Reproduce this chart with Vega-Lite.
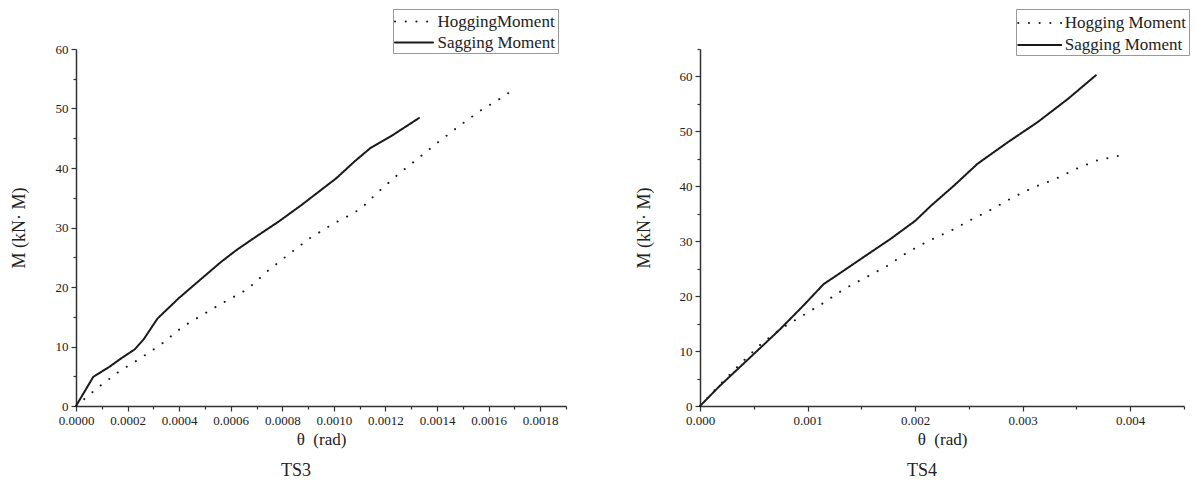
{
  "$schema": "https://vega.github.io/schema/vega-lite/v6.json",
  "background": "white",
  "padding": {"left": 10, "top": 8, "right": 5, "bottom": 5},
  "config": {
    "view": {"stroke": null},
    "font": "Liberation Serif",
    "axis": {
      "labelFont": "Liberation Serif",
      "titleFont": "Liberation Serif",
      "labelFontSize": 13,
      "titleFontSize": 17,
      "titleFontWeight": "normal",
      "labelColor": "#222222",
      "titleColor": "#222222",
      "domainColor": "#333333",
      "tickColor": "#333333",
      "domainWidth": 1.5,
      "tickWidth": 1.2,
      "grid": false,
      "labelFlush": false,
      "labelOverlap": false
    }
  },
  "spacing": 68,
  "resolve": {"scale": {"strokeDash": "independent"}, "legend": {"strokeDash": "independent"}},
  "hconcat": [
    {
      "width": 490,
      "height": 357,
      "title": {"text": "TS3", "orient": "bottom", "fontSize": 18, "font": "Liberation Serif", "fontWeight": "normal", "dx": -25, "offset": 15, "color": "#222222"},
      "data": {"values": [
        {"series": "HoggingMoment", "theta": 0, "M": 0},
        {"series": "HoggingMoment", "theta": 0.000085, "M": 3.1},
        {"series": "HoggingMoment", "theta": 0.000167, "M": 5.8},
        {"series": "HoggingMoment", "theta": 0.000249, "M": 8.0},
        {"series": "HoggingMoment", "theta": 0.000331, "M": 10.4},
        {"series": "HoggingMoment", "theta": 0.000413, "M": 13.3},
        {"series": "HoggingMoment", "theta": 0.000497, "M": 15.5},
        {"series": "HoggingMoment", "theta": 0.00058, "M": 17.6},
        {"series": "HoggingMoment", "theta": 0.000664, "M": 19.6},
        {"series": "HoggingMoment", "theta": 0.000746, "M": 22.8},
        {"series": "HoggingMoment", "theta": 0.000828, "M": 25.6},
        {"series": "HoggingMoment", "theta": 0.00091, "M": 28.3},
        {"series": "HoggingMoment", "theta": 0.000992, "M": 30.5},
        {"series": "HoggingMoment", "theta": 0.00108, "M": 32.5},
        {"series": "HoggingMoment", "theta": 0.00112, "M": 33.8},
        {"series": "HoggingMoment", "theta": 0.00116, "M": 35.5},
        {"series": "HoggingMoment", "theta": 0.00124, "M": 38.6},
        {"series": "HoggingMoment", "theta": 0.00132, "M": 41.4},
        {"series": "HoggingMoment", "theta": 0.0014, "M": 44.2},
        {"series": "HoggingMoment", "theta": 0.00149, "M": 47.2},
        {"series": "HoggingMoment", "theta": 0.00157, "M": 49.7},
        {"series": "HoggingMoment", "theta": 0.00165, "M": 51.8},
        {"series": "HoggingMoment", "theta": 0.00169, "M": 53.0},
        {"series": "Sagging Moment", "theta": 0, "M": 0},
        {"series": "Sagging Moment", "theta": 0.000067, "M": 4.9},
        {"series": "Sagging Moment", "theta": 0.00013, "M": 6.6},
        {"series": "Sagging Moment", "theta": 0.000175, "M": 8.0},
        {"series": "Sagging Moment", "theta": 0.000227, "M": 9.5},
        {"series": "Sagging Moment", "theta": 0.000264, "M": 11.3},
        {"series": "Sagging Moment", "theta": 0.000316, "M": 14.7},
        {"series": "Sagging Moment", "theta": 0.000398, "M": 18.1},
        {"series": "Sagging Moment", "theta": 0.000473, "M": 20.9},
        {"series": "Sagging Moment", "theta": 0.000562, "M": 24.2},
        {"series": "Sagging Moment", "theta": 0.000622, "M": 26.2},
        {"series": "Sagging Moment", "theta": 0.000696, "M": 28.4},
        {"series": "Sagging Moment", "theta": 0.000786, "M": 31.0},
        {"series": "Sagging Moment", "theta": 0.000875, "M": 33.8},
        {"series": "Sagging Moment", "theta": 0.000935, "M": 35.8},
        {"series": "Sagging Moment", "theta": 0.00101, "M": 38.3},
        {"series": "Sagging Moment", "theta": 0.00108, "M": 41.1},
        {"series": "Sagging Moment", "theta": 0.00114, "M": 43.3},
        {"series": "Sagging Moment", "theta": 0.00122, "M": 45.3},
        {"series": "Sagging Moment", "theta": 0.00133, "M": 48.4}
      ]},
      "mark": {"type": "line", "strokeWidth": 2, "strokeCap": "round", "color": "#1a1a1a"},
      "encoding": {
        "x": {
          "field": "theta", "type": "quantitative", "title": "θ\u00a0\u00a0(rad)",
          "scale": {"domain": [0, 0.0019], "nice": false},
          "axis": {
            "values": [0, 0.0001, 0.0002, 0.0003, 0.0004, 0.0005, 0.0006, 0.0007, 0.0008, 0.0009, 0.001, 0.0011, 0.0012, 0.0013, 0.0014, 0.0015, 0.0016, 0.0017, 0.0018, 0.0019],
            "format": ".4f",
            "labelExpr": "round(datum.value*10000) % 2 == 0 ? datum.label : ''",
            "tickSize": {"condition": {"test": "round(datum.value*10000) % 2 == 0", "value": 5}, "value": 3},
            "labelPadding": 3,
            "titlePadding": 4
          }
        },
        "y": {
          "field": "M", "type": "quantitative", "title": "M (kN· M)",
          "scale": {"domain": [0, 60], "nice": false},
          "axis": {
            "values": [0, 5, 10, 15, 20, 25, 30, 35, 40, 45, 50, 55, 60],
            "format": "d",
            "labelExpr": "datum.value % 10 == 0 ? datum.label : ''",
            "tickSize": {"condition": {"test": "datum.value % 10 == 0", "value": 5}, "value": 3},
            "labelPadding": 3,
            "titleFontSize": 18,
            "titlePadding": 27
          }
        },
        "strokeDash": {
          "field": "series", "type": "nominal",
          "scale": {"domain": ["HoggingMoment", "Sagging Moment"], "range": [[0.1, 10.6], [1, 0]]},
          "legend": {
            "orient": "none", "legendX": 317, "legendY": -40, "title": null,
            "symbolType": "M-2,0H2", "symbolSize": 361, "symbolStrokeWidth": 2, "symbolStrokeColor": "#1a1a1a",
            "symbolOffset": 8.5,
            "labelFont": "Liberation Serif", "labelFontSize": 17, "labelColor": "#222222",
            "strokeColor": "#999999", "fillColor": "white", "padding": 2, "rowPadding": 2, "labelOffset": 13,
            "encode": {"symbols": {"update": {"strokeCap": {"value": "round"}}}}
          }
        }
      }
    },
    {
      "width": 484,
      "height": 357,
      "title": {"text": "TS4", "orient": "bottom", "fontSize": 18, "font": "Liberation Serif", "fontWeight": "normal", "dx": -20, "offset": 15, "color": "#222222"},
      "data": {"values": [
        {"series": "Hogging Moment", "theta": 0, "M": 0},
        {"series": "Hogging Moment", "theta": 0.00019, "M": 4.0},
        {"series": "Hogging Moment", "theta": 0.000376, "M": 7.7},
        {"series": "Hogging Moment", "theta": 0.000563, "M": 11.2},
        {"series": "Hogging Moment", "theta": 0.000746, "M": 14.0},
        {"series": "Hogging Moment", "theta": 0.00095, "M": 16.4},
        {"series": "Hogging Moment", "theta": 0.00115, "M": 18.8},
        {"series": "Hogging Moment", "theta": 0.00134, "M": 21.3},
        {"series": "Hogging Moment", "theta": 0.00154, "M": 23.4},
        {"series": "Hogging Moment", "theta": 0.00174, "M": 25.5},
        {"series": "Hogging Moment", "theta": 0.00193, "M": 28.0},
        {"series": "Hogging Moment", "theta": 0.00213, "M": 30.1},
        {"series": "Hogging Moment", "theta": 0.00233, "M": 31.9},
        {"series": "Hogging Moment", "theta": 0.00253, "M": 34.0},
        {"series": "Hogging Moment", "theta": 0.00272, "M": 35.9},
        {"series": "Hogging Moment", "theta": 0.00291, "M": 38.0},
        {"series": "Hogging Moment", "theta": 0.0031, "M": 39.8},
        {"series": "Hogging Moment", "theta": 0.0033, "M": 41.3},
        {"series": "Hogging Moment", "theta": 0.0035, "M": 43.2},
        {"series": "Hogging Moment", "theta": 0.00369, "M": 44.7},
        {"series": "Hogging Moment", "theta": 0.0039, "M": 45.6},
        {"series": "Sagging Moment", "theta": 0, "M": 0},
        {"series": "Sagging Moment", "theta": 0.000183, "M": 3.65},
        {"series": "Sagging Moment", "theta": 0.000464, "M": 8.8},
        {"series": "Sagging Moment", "theta": 0.000746, "M": 14.0},
        {"series": "Sagging Moment", "theta": 0.000957, "M": 18.2},
        {"series": "Sagging Moment", "theta": 0.00115, "M": 22.2},
        {"series": "Sagging Moment", "theta": 0.00131, "M": 24.3},
        {"series": "Sagging Moment", "theta": 0.00152, "M": 27.1},
        {"series": "Sagging Moment", "theta": 0.00177, "M": 30.4},
        {"series": "Sagging Moment", "theta": 0.002, "M": 33.7},
        {"series": "Sagging Moment", "theta": 0.00215, "M": 36.5},
        {"series": "Sagging Moment", "theta": 0.00236, "M": 40.1},
        {"series": "Sagging Moment", "theta": 0.00258, "M": 44.1},
        {"series": "Sagging Moment", "theta": 0.00286, "M": 48.0},
        {"series": "Sagging Moment", "theta": 0.00314, "M": 51.7},
        {"series": "Sagging Moment", "theta": 0.00342, "M": 55.9},
        {"series": "Sagging Moment", "theta": 0.00368, "M": 60.2}
      ]},
      "mark": {"type": "line", "strokeWidth": 2, "strokeCap": "round", "color": "#1a1a1a"},
      "encoding": {
        "x": {
          "field": "theta", "type": "quantitative", "title": "θ\u00a0\u00a0(rad)",
          "scale": {"domain": [0, 0.0045], "nice": false},
          "axis": {
            "values": [0, 0.0005, 0.001, 0.0015, 0.002, 0.0025, 0.003, 0.0035, 0.004, 0.0045],
            "format": ".3f",
            "labelExpr": "round(datum.value*10000) % 10 == 0 ? datum.label : ''",
            "tickSize": {"condition": {"test": "round(datum.value*10000) % 10 == 0", "value": 5}, "value": 3},
            "labelPadding": 3,
            "titlePadding": 4
          }
        },
        "y": {
          "field": "M", "type": "quantitative", "title": "M (kN· M)",
          "scale": {"domain": [0, 65], "nice": false},
          "axis": {
            "values": [0, 5, 10, 15, 20, 25, 30, 35, 40, 45, 50, 55, 60, 65],
            "format": "d",
            "labelExpr": "datum.value % 10 == 0 ? datum.label : ''",
            "tickSize": {"condition": {"test": "datum.value % 10 == 0", "value": 5}, "value": 3},
            "labelPadding": 3,
            "titleFontSize": 18,
            "titlePadding": 26
          }
        },
        "strokeDash": {
          "field": "series", "type": "nominal",
          "scale": {"domain": ["Hogging Moment", "Sagging Moment"], "range": [[0.1, 10.6], [1, 0]]},
          "legend": {
            "orient": "none", "legendX": 316, "legendY": -40, "title": null,
            "symbolType": "M-2,0H2", "symbolSize": 462, "symbolStrokeWidth": 2, "symbolStrokeColor": "#1a1a1a",
            "symbolOffset": 9.7,
            "labelFont": "Liberation Serif", "labelFontSize": 17, "labelColor": "#222222",
            "strokeColor": "#999999", "fillColor": "white", "padding": 2, "rowPadding": 2, "labelOffset": 13,
            "encode": {"symbols": {"update": {"strokeCap": {"value": "round"}}}}
          }
        }
      }
    }
  ]
}
